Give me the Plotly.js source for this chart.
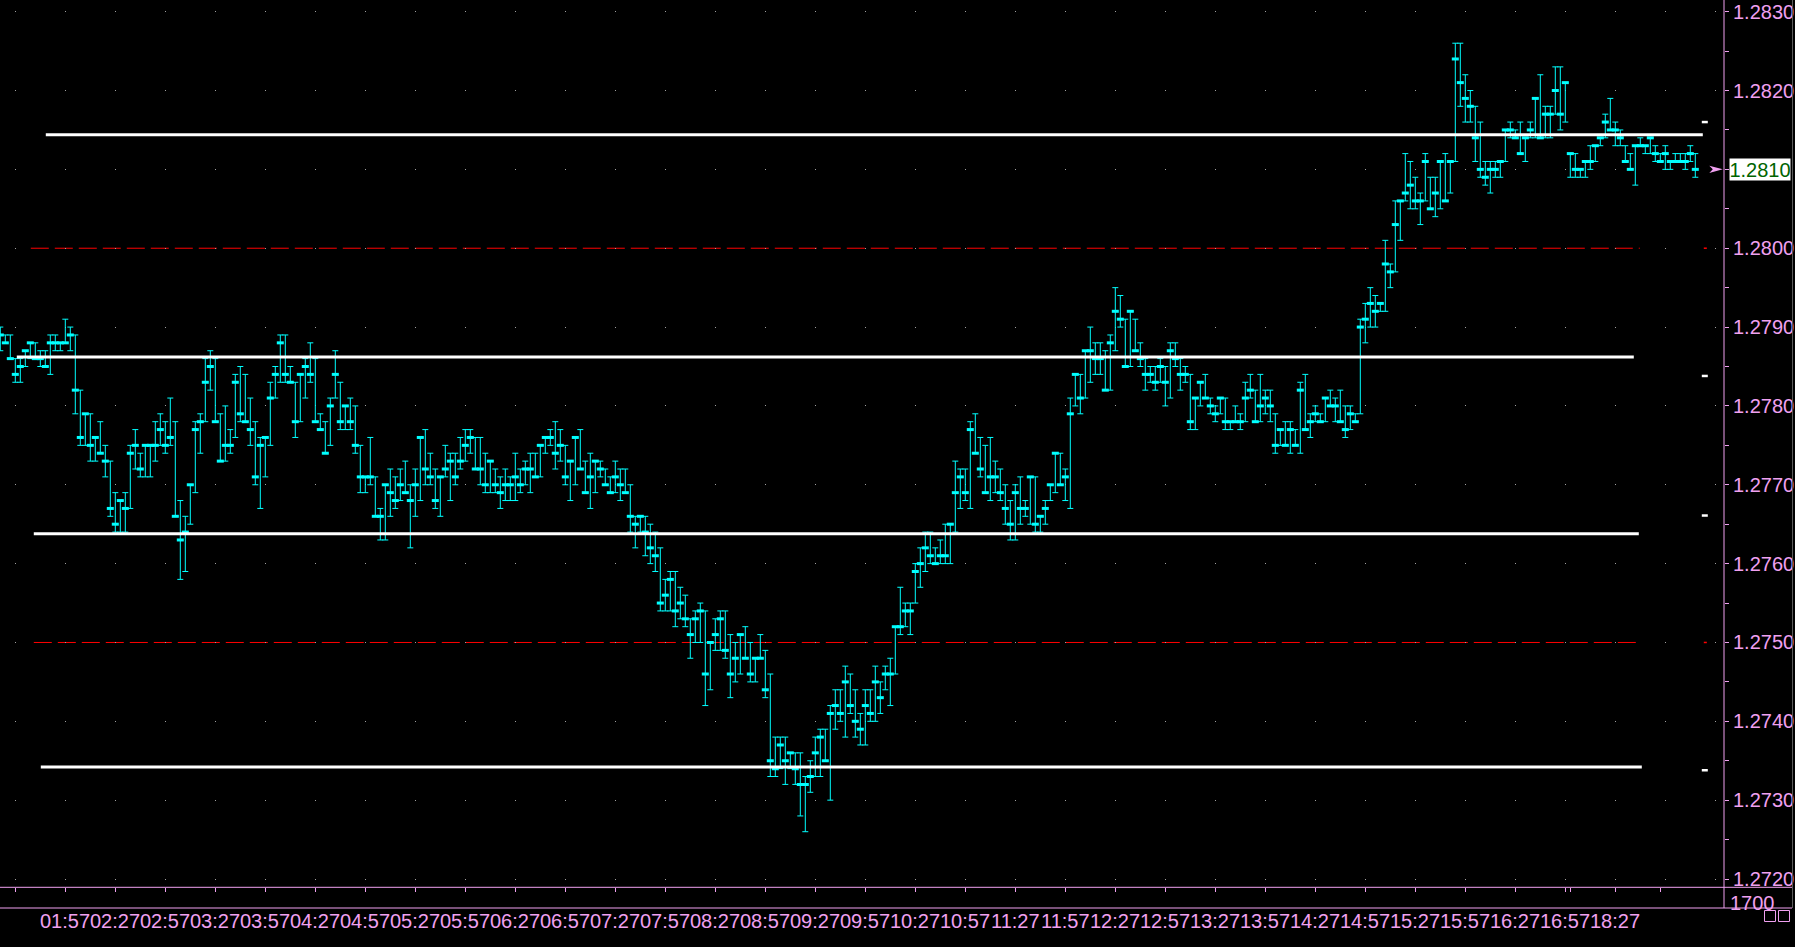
<!DOCTYPE html>
<html>
<head>
<meta charset="utf-8">
<script src="https://cdn.plot.ly/plotly-3.0.1.min.js"></script>
<style>
  html, body { margin: 0; padding: 0; background: #000; }
  #chart { width: 1795px; height: 947px; }
</style>
</head>
<body>
<div id="chart"></div>
<script>
// 3-minute bars: high / low / close
const highs = [
  1.2790,1.2789,1.2789,1.2786,1.2786,1.2787,1.2788,1.2788,1.2787,1.2787,1.2789,1.2789,1.2788,1.2791,1.2790,1.2789,1.2782,1.2779,1.2779,1.2776,
  1.2778,1.2775,1.2773,1.2769,1.2768,1.2769,1.2775,1.2777,1.2774,1.2775,1.2775,1.2778,1.2779,1.2778,1.2781,1.2778,1.2768,1.2766,1.2770,1.2778,
  1.2779,1.2786,1.2787,1.2786,1.2779,1.2780,1.2777,1.2784,1.2785,1.2784,1.2781,1.2778,1.2776,1.2776,1.2783,1.2785,1.2789,1.2789,1.2785,1.2783,
  1.2784,1.2786,1.2788,1.2786,1.2779,1.2778,1.2781,1.2787,1.2783,1.2780,1.2781,1.2780,1.2775,1.2771,1.2776,1.2771,1.2767,1.2770,1.2772,1.2771,
  1.2772,1.2773,1.2770,1.2772,1.2776,1.2777,1.2774,1.2772,1.2771,1.2775,1.2774,1.2774,1.2776,1.2777,1.2777,1.2776,1.2776,1.2774,1.2773,1.2772,
  1.2771,1.2772,1.2771,1.2774,1.2772,1.2773,1.2774,1.2774,1.2775,1.2776,1.2777,1.2778,1.2777,1.2775,1.2773,1.2776,1.2777,1.2773,1.2774,1.2773,
  1.2773,1.2772,1.2771,1.2773,1.2772,1.2772,1.2770,1.2766,1.2766,1.2766,1.2765,1.2764,1.2762,1.2758,1.2759,1.2759,1.2757,1.2756,1.2753,1.2754,
  1.2755,1.2754,1.2750,1.2753,1.2754,1.2754,1.2751,1.2750,1.2751,1.2752,1.2750,1.2748,1.2751,1.2749,1.2746,1.2738,1.2738,1.2738,1.2736,1.2736,
  1.2736,1.2733,1.2735,1.2738,1.2739,1.2739,1.2742,1.2744,1.2744,1.2747,1.2746,1.2744,1.2741,1.2744,1.2744,1.2747,1.2745,1.2747,1.2748,1.2752,
  1.2757,1.2755,1.2755,1.2760,1.2762,1.2764,1.2764,1.2762,1.2763,1.2765,1.2765,1.2773,1.2772,1.2772,1.2778,1.2779,1.2776,1.2775,1.2776,1.2773,
  1.2772,1.2770,1.2768,1.2770,1.2771,1.2768,1.2771,1.2771,1.2766,1.2768,1.2770,1.2774,1.2774,1.2772,1.2781,1.2784,1.2784,1.2787,1.2790,1.2788,
  1.2788,1.2787,1.2789,1.2795,1.2794,1.2791,1.2792,1.2791,1.2788,1.2786,1.2785,1.2785,1.2786,1.2785,1.2788,1.2788,1.2786,1.2785,1.2784,1.2781,
  1.2783,1.2784,1.2781,1.2780,1.2781,1.2781,1.2778,1.2780,1.2779,1.2783,1.2784,1.2782,1.2784,1.2782,1.2782,1.2779,1.2777,1.2778,1.2778,1.2777,
  1.2783,1.2784,1.2779,1.2780,1.2779,1.2781,1.2782,1.2781,1.2782,1.2780,1.2780,1.2779,1.2791,1.2793,1.2795,1.2794,1.2793,1.2801,1.2798,1.2806,
  1.2806,1.2812,1.2811,1.2809,1.2807,1.2812,1.2809,1.2809,1.2811,1.2812,1.2811,1.2826,1.2826,1.2822,1.2820,1.2818,1.2816,1.2811,1.2811,1.2811,
  1.2811,1.2815,1.2816,1.2815,1.2816,1.2814,1.2816,1.2819,1.2822,1.2818,1.2818,1.2823,1.2823,1.2821,1.2812,1.2812,1.2810,1.2811,1.2813,1.2813,
  1.2814,1.2817,1.2819,1.2816,1.2815,1.2813,1.2812,1.2813,1.2814,1.2813,1.2814,1.2813,1.2812,1.2813,1.2811,1.2812,1.2812,1.2812,1.2813,1.2812
];
const lows = [
  1.2787,1.2788,1.2786,1.2783,1.2783,1.2785,1.2786,1.2786,1.2785,1.2785,1.2784,1.2787,1.2787,1.2788,1.2787,1.2779,1.2775,1.2775,1.2773,1.2773,
  1.2774,1.2771,1.2766,1.2764,1.2764,1.2764,1.2767,1.2772,1.2771,1.2771,1.2771,1.2773,1.2775,1.2774,1.2775,1.2766,1.2758,1.2759,1.2765,1.2769,
  1.2774,1.2778,1.2782,1.2778,1.2773,1.2773,1.2774,1.2776,1.2778,1.2778,1.2775,1.2770,1.2767,1.2771,1.2775,1.2781,1.2783,1.2783,1.2783,1.2776,
  1.2778,1.2781,1.2783,1.2778,1.2777,1.2774,1.2775,1.2781,1.2777,1.2777,1.2777,1.2774,1.2769,1.2769,1.2770,1.2766,1.2763,1.2763,1.2766,1.2767,
  1.2768,1.2769,1.2762,1.2766,1.2768,1.2770,1.2770,1.2767,1.2766,1.2771,1.2768,1.2770,1.2772,1.2773,1.2774,1.2772,1.2770,1.2769,1.2769,1.2769,
  1.2767,1.2768,1.2768,1.2768,1.2769,1.2770,1.2769,1.2771,1.2771,1.2774,1.2775,1.2772,1.2773,1.2770,1.2768,1.2770,1.2772,1.2769,1.2767,1.2769,
  1.2771,1.2770,1.2769,1.2769,1.2768,1.2769,1.2764,1.2762,1.2764,1.2761,1.2760,1.2759,1.2754,1.2754,1.2754,1.2752,1.2753,1.2752,1.2748,1.2750,
  1.2750,1.2742,1.2744,1.2749,1.2749,1.2748,1.2743,1.2745,1.2746,1.2748,1.2745,1.2745,1.2748,1.2743,1.2733,1.2733,1.2734,1.2732,1.2734,1.2732,
  1.2728,1.2726,1.2731,1.2733,1.2733,1.2735,1.2730,1.2739,1.2740,1.2738,1.2741,1.2738,1.2737,1.2737,1.2740,1.2740,1.2741,1.2744,1.2742,1.2746,
  1.2751,1.2752,1.2751,1.2755,1.2757,1.2759,1.2760,1.2760,1.2760,1.2760,1.2760,1.2764,1.2767,1.2768,1.2767,1.2774,1.2771,1.2769,1.2768,1.2769,
  1.2768,1.2765,1.2763,1.2763,1.2765,1.2766,1.2765,1.2764,1.2764,1.2765,1.2768,1.2769,1.2770,1.2768,1.2767,1.2780,1.2779,1.2781,1.2783,1.2784,
  1.2784,1.2782,1.2782,1.2787,1.2790,1.2785,1.2785,1.2787,1.2785,1.2782,1.2783,1.2782,1.2783,1.2780,1.2781,1.2785,1.2782,1.2783,1.2777,1.2777,
  1.2780,1.2781,1.2779,1.2778,1.2779,1.2777,1.2777,1.2778,1.2777,1.2778,1.2781,1.2778,1.2778,1.2779,1.2778,1.2774,1.2775,1.2775,1.2774,1.2775,
  1.2774,1.2777,1.2776,1.2778,1.2778,1.2778,1.2780,1.2778,1.2778,1.2776,1.2777,1.2778,1.2779,1.2788,1.2790,1.2790,1.2792,1.2792,1.2795,1.2797,
  1.2801,1.2806,1.2805,1.2805,1.2803,1.2806,1.2805,1.2804,1.2805,1.2806,1.2807,1.2811,1.2818,1.2816,1.2816,1.2811,1.2809,1.2808,1.2807,1.2809,
  1.2809,1.2811,1.2814,1.2814,1.2812,1.2811,1.2814,1.2814,1.2814,1.2814,1.2814,1.2817,1.2815,1.2816,1.2809,1.2809,1.2809,1.2809,1.2810,1.2811,
  1.2813,1.2814,1.2815,1.2813,1.2813,1.2811,1.2810,1.2808,1.2813,1.2812,1.2812,1.2811,1.2811,1.2810,1.2810,1.2811,1.2811,1.2810,1.2811,1.2809
];
const closes = [
  1.2789,1.2788,1.2786,1.2784,1.2785,1.2787,1.2788,1.2786,1.2786,1.2785,1.2788,1.2788,1.2788,1.2788,1.2789,1.2782,1.2776,1.2779,1.2775,1.2776,
  1.2774,1.2773,1.2767,1.2765,1.2768,1.2767,1.2774,1.2775,1.2772,1.2775,1.2775,1.2775,1.2777,1.2775,1.2776,1.2766,1.2763,1.2764,1.2770,1.2777,
  1.2778,1.2783,1.2785,1.2778,1.2773,1.2775,1.2775,1.2783,1.2779,1.2778,1.2777,1.2771,1.2775,1.2776,1.2781,1.2784,1.2788,1.2784,1.2783,1.2778,
  1.2784,1.2785,1.2784,1.2778,1.2777,1.2774,1.2780,1.2784,1.2778,1.2780,1.2778,1.2775,1.2771,1.2771,1.2771,1.2766,1.2766,1.2770,1.2769,1.2768,
  1.2770,1.2769,1.2768,1.2770,1.2776,1.2772,1.2771,1.2768,1.2771,1.2772,1.2773,1.2771,1.2773,1.2775,1.2776,1.2772,1.2772,1.2770,1.2773,1.2770,
  1.2769,1.2770,1.2770,1.2771,1.2770,1.2772,1.2772,1.2771,1.2775,1.2776,1.2776,1.2774,1.2775,1.2771,1.2773,1.2776,1.2772,1.2769,1.2771,1.2773,
  1.2772,1.2770,1.2769,1.2771,1.2770,1.2769,1.2766,1.2765,1.2766,1.2764,1.2762,1.2761,1.2755,1.2756,1.2758,1.2754,1.2755,1.2753,1.2751,1.2753,
  1.2754,1.2746,1.2750,1.2751,1.2753,1.2749,1.2746,1.2748,1.2751,1.2748,1.2746,1.2748,1.2748,1.2744,1.2735,1.2734,1.2737,1.2735,1.2736,1.2734,
  1.2732,1.2732,1.2733,1.2736,1.2738,1.2735,1.2741,1.2742,1.2741,1.2745,1.2742,1.2740,1.2739,1.2742,1.2741,1.2745,1.2743,1.2746,1.2746,1.2752,
  1.2752,1.2754,1.2754,1.2759,1.2760,1.2762,1.2761,1.2760,1.2761,1.2761,1.2765,1.2769,1.2771,1.2769,1.2777,1.2774,1.2772,1.2769,1.2771,1.2771,
  1.2769,1.2767,1.2765,1.2769,1.2767,1.2767,1.2771,1.2765,1.2766,1.2767,1.2770,1.2774,1.2770,1.2771,1.2779,1.2784,1.2781,1.2787,1.2787,1.2786,
  1.2786,1.2782,1.2788,1.2792,1.2791,1.2785,1.2792,1.2787,1.2786,1.2784,1.2784,1.2783,1.2785,1.2783,1.2787,1.2786,1.2784,1.2784,1.2778,1.2781,
  1.2783,1.2781,1.2780,1.2779,1.2781,1.2778,1.2778,1.2778,1.2778,1.2781,1.2782,1.2778,1.2780,1.2781,1.2780,1.2775,1.2777,1.2775,1.2777,1.2775,
  1.2782,1.2777,1.2778,1.2779,1.2778,1.2781,1.2780,1.2780,1.2778,1.2777,1.2779,1.2778,1.2790,1.2791,1.2793,1.2792,1.2793,1.2798,1.2797,1.2803,
  1.2806,1.2807,1.2808,1.2806,1.2806,1.2811,1.2805,1.2807,1.2811,1.2806,1.2811,1.2824,1.2821,1.2819,1.2818,1.2814,1.2810,1.2809,1.2810,1.2810,
  1.2811,1.2815,1.2815,1.2814,1.2812,1.2814,1.2815,1.2819,1.2814,1.2817,1.2817,1.2820,1.2817,1.2821,1.2812,1.2810,1.2810,1.2811,1.2811,1.2813,
  1.2814,1.2816,1.2815,1.2815,1.2814,1.2811,1.2810,1.2813,1.2813,1.2813,1.2814,1.2812,1.2811,1.2812,1.2811,1.2811,1.2811,1.2811,1.2812,1.2810
];

// time axis: bar index of each tick and its label
const timeTickIdx = [3, 13, 23, 33, 43, 53, 63, 73, 83, 93, 103, 113, 123, 133, 143, 153, 163, 173, 183, 193,
  203, 213, 223, 233, 243, 253, 263, 273, 283, 293, 303, 313, 314, 323, 332];
const timeTickText = ['', '01:57', '02:27', '02:57', '03:27', '03:57', '04:27', '04:57', '05:27', '05:57', '06:27',
  '06:57', '07:27', '07:57', '08:27', '08:57', '09:27', '09:57', '10:27', '10:57', '11:27', '11:57', '12:27',
  '12:57', '13:27', '13:57', '14:27', '14:57', '15:27', '15:57', '16:27', '16:57', '', '18:27', ''];

// price axis
const priceTicks = [1.2720, 1.2730, 1.2740, 1.2750, 1.2760, 1.2770, 1.2780, 1.2790, 1.2800, 1.2810, 1.2820, 1.2830];
const priceMinorTicks = [1.2725, 1.2735, 1.2745, 1.2755, 1.2765, 1.2775, 1.2785, 1.2795, 1.2805, 1.2815, 1.2825];

// drawn objects: white S/R lines, red round-number lines, small tags at the right
const srLevels = [1.28144, 1.27862, 1.27638, 1.27342];
const srFrom = [9.1, 3.3, 6.7, 8.1];
const srTo = [340.5, 326.7, 327.7, 328.3];
const roundLevels = [1.2800, 1.2750];
const roundFrom = [6.1, 6.7];
const roundTo = [327.9, 327.3];
const tagLevels = [1.28160, 1.27838, 1.27661, 1.27338];

const PINK = '#f0a0f0';
const CYAN = '#00ffff';
const FONT = 'Liberation Sans, Arial, sans-serif';
const FS = 20;

// plot area is 1724 x 908 px (no left/top margin)
const PW = 1724, PH = 908;
const paperX = px => px / PW;
const paperY = py => (PH - py) / PH;
const splitY = 887.3;
const pricePerPx = 0.0001 / 7.885;

const idx = closes.map((_, i) => i);
const upErr = closes.map((c, i) => Math.max(0, highs[i] - c));
const dnErr = closes.map((c, i) => Math.max(0, c - lows[i]));
const lastClose = closes[closes.length - 1];

const traces = [{
  type: 'scatter', mode: 'markers', x: idx, y: closes,
  marker: { symbol: 'line-ew', size: 5, color: CYAN, line: { color: CYAN, width: 3 } },
  error_y: { type: 'data', symmetric: false, array: upErr, arrayminus: dnErr, color: CYAN, thickness: 1, width: 3 },
  hoverinfo: 'skip', xaxis: 'x', yaxis: 'y',
}];

const shapes = [];

// red dashed round-number lines (under the bars)
roundLevels.forEach((lv, k) => {
  shapes.push({
    type: 'line', xref: 'x', yref: 'y', x0: roundFrom[k], x1: roundTo[k], y0: lv, y1: lv,
    line: { color: '#ff0000', width: 1, dash: '18px,6px' }, layer: 'below',
  });
  shapes.push({
    type: 'line', xref: 'x', yref: 'y', x0: 340.7, x1: 341.3, y0: lv, y1: lv,
    line: { color: '#ff0000', width: 1.5 }, layer: 'above',
  });
});

// white support / resistance lines
srLevels.forEach((lv, k) => {
  shapes.push({
    type: 'line', xref: 'x', yref: 'y', x0: srFrom[k], x1: srTo[k], y0: lv, y1: lv,
    line: { color: '#ffffff', width: 3 }, layer: 'above',
  });
});
tagLevels.forEach(lv => {
  shapes.push({
    type: 'line', xref: 'x', yref: 'y', x0: 340.3, x1: 341.5, y0: lv, y1: lv,
    line: { color: '#ffffff', width: 2.5 }, layer: 'above',
  });
});

// current price arrow
const ah = 3.7 * pricePerPx;
shapes.push({
  type: 'path', xref: 'x', yref: 'y',
  path: `M 341.8,${lastClose + ah} L 344.5,${lastClose} L 341.8,${lastClose - ah} L 342.5,${lastClose} Z`,
  fillcolor: PINK, line: { width: 0 }, layer: 'above',
});

// frame lines
shapes.push(
  { type: 'line', xref: 'paper', yref: 'paper', x0: 0, x1: paperX(1792), y0: paperY(splitY), y1: paperY(splitY), line: { color: PINK, width: 1 } },
  { type: 'line', xref: 'paper', yref: 'paper', x0: 0, x1: paperX(1792), y0: 0, y1: 0, line: { color: PINK, width: 1 } },
  { type: 'line', xref: 'paper', yref: 'paper', x0: 1, x1: 1, y0: 0, y1: 1, line: { color: PINK, width: 1 } },
  { type: 'line', xref: 'paper', yref: 'paper', x0: paperX(1792.5), x1: paperX(1792.5), y0: 0, y1: 1, line: { color: '#5a5a5a', width: 1 } },
  { type: 'rect', xref: 'paper', yref: 'paper', x0: paperX(1764.5), x1: paperX(1775.5), y0: paperY(921.5), y1: paperY(910.5), line: { color: PINK, width: 1 } },
  { type: 'rect', xref: 'paper', yref: 'paper', x0: paperX(1778.5), x1: paperX(1789.5), y0: paperY(921.5), y1: paperY(910.5), line: { color: PINK, width: 1 } },
);

const annotations = [
  // last price tag (replaces the axis label at that level)
  {
    xref: 'paper', yref: 'y', x: paperX(1729), y: lastClose, xanchor: 'left', yanchor: 'middle',
    text: lastClose.toFixed(4), showarrow: false, bgcolor: '#ffffff', width: 60, height: 21, borderpad: 0,
    font: { family: FONT, size: FS, color: '#006400' },
  },
  {
    xref: 'paper', yref: 'paper', x: paperX(1729), y: paperY(891), xanchor: 'left', yanchor: 'top',
    text: '1700', showarrow: false, borderpad: 0,
    font: { family: FONT, size: FS, color: PINK },
  },
];

// time labels under the bottom pane
timeTickIdx.forEach((ix, k) => {
  if (!timeTickText[k]) return;
  annotations.push({
    xref: 'x', yref: 'paper', x: ix, y: paperY(909.5), xanchor: 'center', yanchor: 'top',
    text: timeTickText[k], showarrow: false, borderpad: 0,
    font: { family: FONT, size: FS, color: PINK },
  });
});

const layout = {
  width: 1795, height: 947,
  paper_bgcolor: '#000000', plot_bgcolor: '#000000',
  margin: { l: 0, r: 1795 - PW, t: 0, b: 947 - PH, pad: 0 },
  showlegend: false,
  font: { family: FONT, color: PINK, size: FS },
  xaxis: {
    range: [-0.06, 344.74], anchor: 'y2', tickmode: 'array', tickvals: timeTickIdx,
    ticks: 'outside', ticklen: 4, tickwidth: 1, tickcolor: PINK, showticklabels: false,
    showgrid: false, zeroline: false, showline: false, automargin: false, fixedrange: true,
  },
  yaxis: {
    domain: [(PH - splitY) / PH, 1], range: [1.271895, 1.283148], side: 'right', anchor: 'x',
    tickmode: 'array', tickvals: priceTicks,
    ticktext: priceTicks.map(v => (Math.abs(v - lastClose) < 1e-6 ? '' : v.toFixed(4))),
    ticks: 'outside', ticklen: 4, tickwidth: 1, tickcolor: PINK,
    tickfont: { family: FONT, size: FS, color: PINK },
    showgrid: true, gridcolor: '#a0a0a0', gridwidth: 1, griddash: '0px,15px,1px,34px',
    zeroline: false, showline: false, automargin: false, fixedrange: true,
    minor: { tickmode: 'array', tickvals: priceMinorTicks, ticks: 'outside', ticklen: 4, tickcolor: PINK, showgrid: false },
  },
  yaxis2: {
    domain: [0, (PH - splitY) / PH], range: [0, 2400], side: 'right', anchor: 'x',
    tickmode: 'array', tickvals: [1700], ticks: 'outside', ticklen: 4, tickcolor: PINK,
    showticklabels: false, showgrid: false, zeroline: false, showline: false, fixedrange: true,
  },
  shapes,
  annotations,
};

Plotly.newPlot('chart', traces, layout, { displayModeBar: false, staticPlot: true });
</script>
</body>
</html>
